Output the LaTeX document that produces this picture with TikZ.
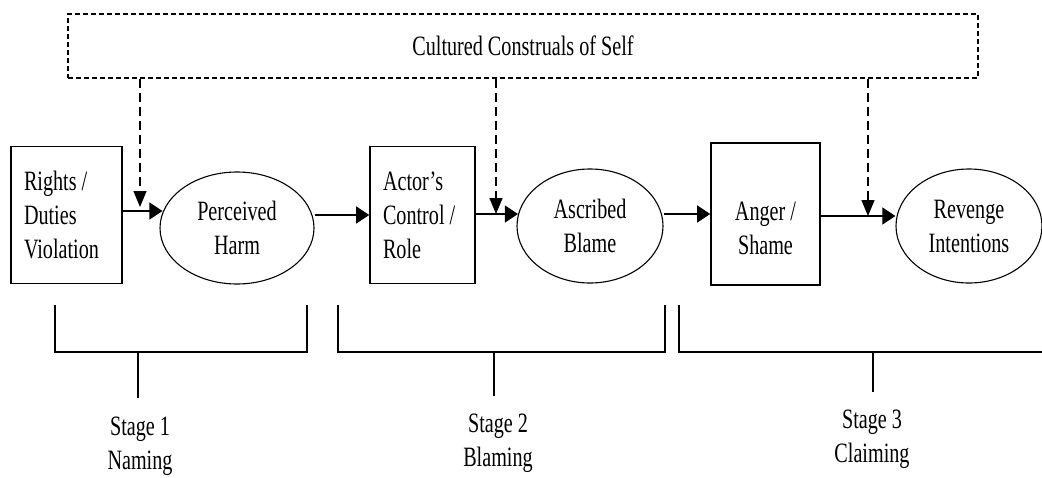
\documentclass[tikz,border=0pt]{standalone}
\usepackage{fontspec}
\setmainfont[FakeStretch=0.72]{Liberation Serif}
\usetikzlibrary{shapes.geometric,arrows.meta}
\begin{document}
\begin{tikzpicture}[x=1pt,y=-1pt,
  font=\fontsize{28}{34}\selectfont,
  boxnode/.style={draw,line width=1.7pt,rectangle,inner sep=0pt,inner xsep=13pt},
  ellnode/.style={draw,line width=1.1pt,ellipse,inner sep=0pt,align=center},
  arr/.style={line width=1.4pt,-{Triangle[length=13pt,width=17pt]}},
  dasharr/.style={line width=1.4pt,dash pattern=on 9pt off 5pt,-{Triangle[length=16pt,width=13pt]}},
  brk/.style={line width=1.4pt},
  lbl/.style={align=center,inner sep=0pt}]
\useasboundingbox (0,0) rectangle (1042,477);
% top dashed box
\node[draw,line width=1.4pt,dash pattern=on 5pt off 3pt,minimum width=910pt,minimum height=64pt,inner sep=0pt]
  (cul) at (523,46) {Cultured Construals of Self};
% nodes
\node[boxnode,text width=85pt,align=flush left,minimum height=137pt] (r1) at (66.5,215) {Rights /\\Duties\\Violation};
\node[ellnode,minimum width=154pt,minimum height=112pt] (e1) at (237,228) {Perceived\\Harm};
\node[boxnode,text width=79pt,align=flush left,minimum height=137pt] (r2) at (422.5,215) {Actor’s\\Control /\\Role};
\node[ellnode,minimum width=146pt,minimum height=114pt] (e2) at (590,226) {Ascribed\\Blame};
\node[boxnode,minimum width=109pt,minimum height=142pt] (r3) at (765.5,214) {};
\node[lbl] (r3t) at (765.5,228) {Anger /\\Shame};
\node[ellnode,minimum width=146pt,minimum height=114pt] (e3) at (969,226) {Revenge\\Intentions};
% join points
\coordinate (j1) at (140,211);
\coordinate (j2) at (496,214);
\coordinate (j3) at (868,216);
% arrows
\draw[arr,shorten >=-3pt] (r1.east |- j1) -- (e1.west |- j1);
\draw[arr] (e1.east |- r2.west) -- (r2.west);
\draw[arr,shorten >=-1.5pt] (r2.east |- j2) -- (e2.west |- j2);
\draw[arr] (e2.east |- r3.west) -- (r3.west);
\draw[arr] (r3.east |- j3) -- (e3.west |- j3);
% dashed arrows
\draw[dasharr] (cul.south -| j1) -- ([yshift=4pt]j1);
\draw[dasharr] (cul.south -| j2) -- (j2);
\draw[dasharr] (cul.south -| j3) -- (j3);
% brackets
\draw[brk] (55,305) -- (55,352) -- (307,352) -- (307,305);
\draw[brk] (338,305) -- (338,352) -- (665,352) -- (665,305);
\draw[brk] (679,305) -- (679,352) -- (1050,352);
\coordinate (b1) at (138,352); \coordinate (t1) at (138,398);
\coordinate (b2) at (494,352); \coordinate (t2) at (494,396);
\coordinate (b3) at (873,352); \coordinate (t3) at (873,392);
\draw[brk] (b1) -- (t1);
\draw[brk] (b2) -- (t2);
\draw[brk] (b3) -- (t3);
% stage labels
\node[lbl] (s1) at (140,446) {Stage 1\\Naming};
\node[lbl] (s2) at (498,443) {Stage 2\\Blaming};
\node[lbl] (s3) at (872,439) {Stage 3\\Claiming};
\end{tikzpicture}
\end{document}
